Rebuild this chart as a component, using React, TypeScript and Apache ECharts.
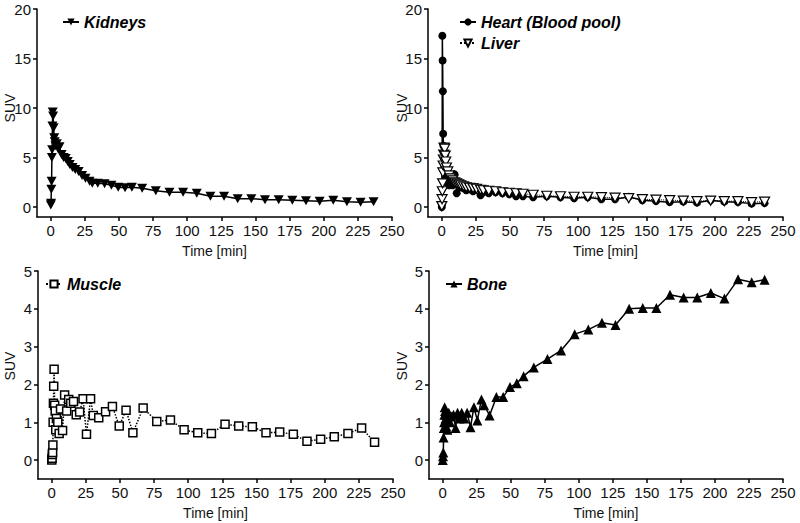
import React, { useEffect, useRef } from "react";
import * as echarts from "echarts";

const times = [0.1, 0.3, 0.5, 0.7, 0.9, 1.1, 1.3, 1.5, 1.8, 2.2, 2.6, 3, 3.5, 4.5, 5.5, 6.5, 8, 9.5, 11, 12.5, 14, 16, 18, 20.5, 23, 25.5, 28.5, 30.5, 34.5, 39.5, 44.5, 49.5, 54.5, 59.5, 67, 77, 87, 97, 107, 117, 127, 137, 147, 157, 167, 177, 187, 197, 207, 217, 227, 236.5];

const kidneys = [0.2, 0.4, 1.8, 2.6, 5.0, 5.8, 8.2, 9.6, 9.2, 8.0, 7.0, 6.6, 6.2, 6.4, 5.9, 6.1, 5.3, 5.0, 4.9, 4.6, 4.3, 4.0, 3.8, 3.6, 3.2, 2.9, 2.6, 2.4, 2.4, 2.35, 2.2, 2.0, 1.95, 2.0, 1.9, 1.65, 1.5, 1.5, 1.4, 1.1, 1.1, 0.85, 0.85, 0.75, 0.75, 0.7, 0.65, 0.6, 0.7, 0.55, 0.5, 0.55];

const heart = [0.0, 0.3, 17.3, 14.8, 11.7, 7.4, 6.2, 5.0, 4.2, 3.5, 3.0, 2.8, 2.5, 2.6, 2.2, 2.4, 2.2, 3.3, 1.4, 2.3, 2.0, 1.9, 1.7, 1.8, 1.6, 2.0, 1.2, 1.5, 1.4, 1.5, 1.4, 1.3, 1.1, 1.1, 1.0, 1.1, 1.0, 0.9, 1.0, 0.8, 0.8, 1.05, 0.7, 0.6, 0.5, 0.55, 0.45, 0.7, 0.55, 0.5, 0.35, 0.4];

const liver = [0.1, 0.8, 1.6, 2.4, 3.5, 4.2, 4.8, 5.3, 6.0, 5.9, 5.2, 4.6, 4.0, 3.6, 3.2, 2.9, 2.7, 2.5, 2.4, 2.3, 2.2, 2.1, 2.0, 1.95, 1.9, 1.85, 1.75, 1.7, 1.65, 1.6, 1.5, 1.45, 1.4, 1.35, 1.25, 1.15, 1.1, 1.05, 1.05, 1.0, 0.95, 0.9, 0.8, 0.75, 0.7, 0.65, 0.6, 0.65, 0.6, 0.6, 0.5, 0.55];

const muscle = [0.0, 0.05, 0.15, 0.2, 0.4, 1.0, 1.5, 1.95, 2.4, 1.45, 1.3, 0.8, 1.1, 1.0, 0.7, 1.35, 0.78, 1.72, 1.3, 1.6, 1.5, 1.55, 1.2, 1.27, 1.62, 0.68, 1.62, 1.18, 1.12, 1.28, 1.42, 0.9, 1.32, 0.72, 1.38, 1.02, 1.06, 0.8, 0.72, 0.7, 0.95, 0.9, 0.88, 0.72, 0.74, 0.68, 0.5, 0.55, 0.62, 0.7, 0.85, 0.47];

const bone = [0.0, 0.1, 0.2, 0.6, 0.85, 1.0, 1.2, 1.4, 1.3, 1.1, 0.9, 1.2, 0.8, 1.25, 1.0, 1.15, 1.2, 0.85, 1.25, 1.1, 1.25, 1.1, 1.25, 0.87, 1.4, 1.05, 1.6, 1.45, 1.18, 1.67, 1.67, 1.93, 2.03, 2.22, 2.45, 2.67, 2.9, 3.33, 3.45, 3.63, 3.57, 4.0, 4.02, 4.02, 4.37, 4.3, 4.3, 4.42, 4.27, 4.78, 4.7, 4.77];

const xTicks = [0, 25, 50, 75, 100, 125, 150, 175, 200, 225, 250];
const yTicksTop = [0, 5, 10, 15, 20];
const yTicksBottom = [0, 1, 2, 3, 4, 5];

const FONT = "'Liberation Sans', Arial, sans-serif";
const DOWN_TRI = "path://M0,0 L10,0 L5,9 Z";

function pairs(vals: number[]) {
  return times.map((t, i) => [t, vals[i]]);
}

function xAxisDef(gridIndex: number) {
  return {
    type: "value",
    gridIndex,
    min: -10,
    max: 250,
    name: "Time [min]",
    nameLocation: "middle",
    nameGap: 27,
    nameTextStyle: { fontFamily: FONT, fontSize: 14, color: "#111" },
    axisLine: { show: true, onZero: false, lineStyle: { color: "#000", width: 1.5 } },
    axisTick: { show: true, length: 4, customValues: xTicks, lineStyle: { color: "#000", width: 1.5 } },
    axisLabel: { customValues: xTicks, margin: 6, fontFamily: FONT, fontSize: 15, color: "#111" },
    splitLine: { show: false },
  };
}

function yAxisDef(gridIndex: number, min: number, max: number, ticks: number[]) {
  return {
    type: "value",
    gridIndex,
    min,
    max,
    axisLine: { show: true, onZero: false, lineStyle: { color: "#000", width: 1.5 } },
    axisTick: { show: true, length: 4, customValues: ticks, lineStyle: { color: "#000", width: 1.5 } },
    axisLabel: { customValues: ticks, margin: 6, fontFamily: FONT, fontSize: 15, color: "#111" },
    splitLine: { show: false },
  };
}

function suvLabel(x: number, y: number) {
  return {
    type: "text",
    x,
    y,
    rotation: Math.PI / 2,
    style: {
      text: "SUV",
      fontFamily: FONT,
      fontSize: 14,
      fill: "#111",
      align: "center",
      verticalAlign: "middle",
    },
  };
}

function legendDef(names: string[], left: number, top: number) {
  return {
    data: names,
    left,
    top,
    orient: "vertical",
    padding: 0,
    itemGap: 5,
    itemWidth: 16,
    itemHeight: 9,
    textStyle: { fontFamily: FONT, fontSize: 16, fontWeight: "bold", fontStyle: "italic", color: "#000", lineHeight: 16 },
  };
}

export default function App() {
  const ref = useRef<HTMLDivElement>(null);
  useEffect(() => {
    if (!ref.current) return;
    const chart = echarts.init(ref.current, null, { renderer: "svg" });
    chart.setOption({
      animation: false,
      backgroundColor: "#fff",
      grid: [
        { left: 37, top: 9, width: 355, height: 208 },
        { left: 428, top: 9, width: 355, height: 208 },
        { left: 38, top: 271, width: 355, height: 208 },
        { left: 429, top: 271, width: 354, height: 208 },
      ],
      xAxis: [xAxisDef(0), xAxisDef(1), xAxisDef(2), xAxisDef(3)],
      yAxis: [
        yAxisDef(0, -1, 20, yTicksTop),
        yAxisDef(1, -1, 20, yTicksTop),
        yAxisDef(2, -0.5, 5, yTicksBottom),
        yAxisDef(3, -0.5, 5, yTicksBottom),
      ],
      legend: [
        legendDef(["Kidneys"], 62, 14),
        legendDef(["Heart (Blood pool)", "Liver"], 459, 14),
        legendDef(["Muscle"], 45, 276),
        legendDef(["Bone"], 445, 276),
      ],
      graphic: [suvLabel(10, 108), suvLabel(402, 108), suvLabel(10, 366), suvLabel(402, 366)],
      series: [
        {
          name: "Kidneys",
          type: "line",
          xAxisIndex: 0,
          yAxisIndex: 0,
          data: pairs(kidneys),
          symbol: DOWN_TRI,
          symbolSize: [10, 9],
          lineStyle: { color: "#000", width: 1.5 },
          itemStyle: { color: "#000" },
        },
        {
          name: "Heart (Blood pool)",
          type: "line",
          xAxisIndex: 1,
          yAxisIndex: 1,
          data: pairs(heart),
          symbol: "circle",
          symbolSize: 8,
          lineStyle: { color: "#000", width: 1.5 },
          itemStyle: { color: "#000" },
        },
        {
          name: "Liver",
          type: "line",
          xAxisIndex: 1,
          yAxisIndex: 1,
          data: pairs(liver),
          symbol: DOWN_TRI,
          symbolSize: [10, 9],
          lineStyle: { color: "#000", width: 1, type: "dotted" },
          itemStyle: { color: "#fff", borderColor: "#000", borderWidth: 1.2 },
        },
        {
          name: "Muscle",
          type: "line",
          xAxisIndex: 2,
          yAxisIndex: 2,
          data: pairs(muscle),
          symbol: "rect",
          symbolSize: 8,
          lineStyle: { color: "#000", width: 1.5, type: "dotted" },
          itemStyle: { color: "#fff", borderColor: "#000", borderWidth: 1.5 },
        },
        {
          name: "Bone",
          type: "line",
          xAxisIndex: 3,
          yAxisIndex: 3,
          data: pairs(bone),
          symbol: "triangle",
          symbolSize: 10,
          lineStyle: { color: "#000", width: 1.5 },
          itemStyle: { color: "#000" },
        },
      ],
    });
    return () => chart.dispose();
  }, []);
  return <div ref={ref} style={{ position: "fixed", left: 0, top: 0, width: 800, height: 523, background: "#fff" }} />;
}
